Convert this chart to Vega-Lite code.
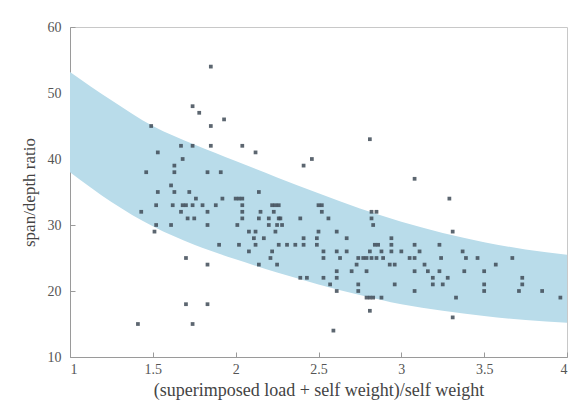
{
  "$schema": "https://vega.github.io/schema/vega-lite/v6.json",
  "width": 497,
  "height": 330,
  "autosize": "none",
  "padding": {"left": 70, "top": 27, "right": 17, "bottom": 53},
  "background": "white",
  "config": {
    "view": {"stroke": "#c8c8c8", "strokeWidth": 1},
    "font": "Liberation Serif",
    "axis": {
      "labelFont": "Liberation Serif",
      "titleFont": "Liberation Serif",
      "labelFontSize": 14,
      "labelColor": "#555555",
      "titleColor": "#444444",
      "titleFontWeight": "normal",
      "domainColor": "#9a9a9a",
      "tickColor": "#9a9a9a",
      "tickSize": -5,
      "grid": false
    }
  },
  "datasets": {
    "band": [
      {"ratio": 1.0, "upper": 53.2, "lower": 38.0},
      {"ratio": 1.25, "upper": 48.9, "lower": 33.5},
      {"ratio": 1.5, "upper": 45.0, "lower": 29.8},
      {"ratio": 1.75, "upper": 42.2, "lower": 27.0},
      {"ratio": 2.0, "upper": 39.7, "lower": 24.8},
      {"ratio": 2.25, "upper": 37.2, "lower": 22.8},
      {"ratio": 2.5, "upper": 34.8, "lower": 21.0},
      {"ratio": 2.75, "upper": 32.5, "lower": 19.4},
      {"ratio": 3.0, "upper": 30.5, "lower": 18.0},
      {"ratio": 3.25, "upper": 28.8, "lower": 17.0},
      {"ratio": 3.5, "upper": 27.4, "lower": 16.2},
      {"ratio": 3.75, "upper": 26.3, "lower": 15.6},
      {"ratio": 4.0, "upper": 25.5, "lower": 15.2}
    ],
    "pts": [
      {"x": 1.85, "y": 54},
      {"x": 1.74, "y": 48},
      {"x": 1.78, "y": 47},
      {"x": 1.93, "y": 46},
      {"x": 1.49, "y": 45}, {"x": 1.85, "y": 45},
      {"x": 2.81, "y": 43},
      {"x": 1.67, "y": 42}, {"x": 1.74, "y": 42}, {"x": 1.85, "y": 42}, {"x": 2.04, "y": 42},
      {"x": 1.53, "y": 41}, {"x": 2.12, "y": 41},
      {"x": 1.68, "y": 40}, {"x": 2.46, "y": 40},
      {"x": 1.63, "y": 39}, {"x": 2.41, "y": 39},
      {"x": 1.46, "y": 38}, {"x": 1.63, "y": 38}, {"x": 1.83, "y": 38}, {"x": 1.91, "y": 38},
      {"x": 3.08, "y": 37},
      {"x": 1.61, "y": 36},
      {"x": 1.53, "y": 35}, {"x": 1.63, "y": 35}, {"x": 1.72, "y": 35}, {"x": 2.14, "y": 35},
      {"x": 1.76, "y": 34}, {"x": 1.92, "y": 34}, {"x": 2.0, "y": 34}, {"x": 2.02, "y": 34}, {"x": 2.04, "y": 34}, {"x": 3.29, "y": 34},
      {"x": 1.52, "y": 33}, {"x": 1.62, "y": 33}, {"x": 1.68, "y": 33}, {"x": 1.70, "y": 33}, {"x": 1.74, "y": 33}, {"x": 1.80, "y": 33}, {"x": 1.88, "y": 33}, {"x": 2.04, "y": 33}, {"x": 2.22, "y": 33}, {"x": 2.24, "y": 33}, {"x": 2.26, "y": 33}, {"x": 2.50, "y": 33}, {"x": 2.52, "y": 33},
      {"x": 1.43, "y": 32}, {"x": 1.67, "y": 32}, {"x": 1.83, "y": 32}, {"x": 2.04, "y": 32}, {"x": 2.15, "y": 32}, {"x": 2.23, "y": 32}, {"x": 2.52, "y": 32}, {"x": 2.82, "y": 32}, {"x": 2.85, "y": 32},
      {"x": 1.71, "y": 31}, {"x": 1.75, "y": 31}, {"x": 2.04, "y": 31}, {"x": 2.14, "y": 31}, {"x": 2.20, "y": 31}, {"x": 2.26, "y": 31}, {"x": 2.27, "y": 31}, {"x": 2.39, "y": 31}, {"x": 2.56, "y": 31}, {"x": 2.82, "y": 31},
      {"x": 1.52, "y": 30}, {"x": 1.61, "y": 30}, {"x": 1.83, "y": 30}, {"x": 2.01, "y": 30}, {"x": 2.20, "y": 30}, {"x": 2.25, "y": 30}, {"x": 2.28, "y": 30}, {"x": 2.83, "y": 30},
      {"x": 1.51, "y": 29}, {"x": 2.08, "y": 29}, {"x": 2.12, "y": 29}, {"x": 2.24, "y": 29}, {"x": 2.50, "y": 29}, {"x": 2.61, "y": 29}, {"x": 3.31, "y": 29},
      {"x": 2.11, "y": 28}, {"x": 2.17, "y": 28}, {"x": 2.41, "y": 28}, {"x": 2.49, "y": 28}, {"x": 2.67, "y": 28}, {"x": 2.94, "y": 28},
      {"x": 1.90, "y": 27}, {"x": 2.02, "y": 27}, {"x": 2.12, "y": 27}, {"x": 2.26, "y": 27}, {"x": 2.31, "y": 27}, {"x": 2.36, "y": 27}, {"x": 2.41, "y": 27}, {"x": 2.49, "y": 27}, {"x": 2.84, "y": 27}, {"x": 2.86, "y": 27}, {"x": 2.94, "y": 27}, {"x": 3.08, "y": 27}, {"x": 3.23, "y": 27},
      {"x": 2.08, "y": 26}, {"x": 2.22, "y": 26}, {"x": 2.53, "y": 26}, {"x": 2.61, "y": 26}, {"x": 2.67, "y": 26}, {"x": 2.81, "y": 26}, {"x": 2.88, "y": 26}, {"x": 2.94, "y": 26}, {"x": 3.00, "y": 26}, {"x": 3.11, "y": 26}, {"x": 3.37, "y": 26},
      {"x": 1.70, "y": 25}, {"x": 2.21, "y": 25}, {"x": 2.53, "y": 25}, {"x": 2.63, "y": 25}, {"x": 2.74, "y": 25}, {"x": 2.77, "y": 25}, {"x": 2.79, "y": 25}, {"x": 2.82, "y": 25}, {"x": 2.85, "y": 25}, {"x": 2.89, "y": 25}, {"x": 3.05, "y": 25}, {"x": 3.08, "y": 25}, {"x": 3.24, "y": 25}, {"x": 3.39, "y": 25}, {"x": 3.46, "y": 25}, {"x": 3.67, "y": 25},
      {"x": 1.83, "y": 24}, {"x": 2.14, "y": 24}, {"x": 2.25, "y": 24}, {"x": 2.73, "y": 24}, {"x": 2.93, "y": 24}, {"x": 2.96, "y": 24}, {"x": 3.14, "y": 24}, {"x": 3.57, "y": 24},
      {"x": 2.61, "y": 23}, {"x": 2.70, "y": 23}, {"x": 2.79, "y": 23}, {"x": 3.08, "y": 23}, {"x": 3.16, "y": 23}, {"x": 3.23, "y": 23}, {"x": 3.38, "y": 23}, {"x": 3.50, "y": 23},
      {"x": 2.39, "y": 22}, {"x": 2.43, "y": 22}, {"x": 2.53, "y": 22}, {"x": 2.61, "y": 22}, {"x": 3.19, "y": 22}, {"x": 3.28, "y": 22}, {"x": 3.73, "y": 22},
      {"x": 2.57, "y": 21}, {"x": 2.74, "y": 21}, {"x": 2.96, "y": 21}, {"x": 3.19, "y": 21}, {"x": 3.25, "y": 21}, {"x": 3.50, "y": 21}, {"x": 3.73, "y": 21},
      {"x": 2.61, "y": 20}, {"x": 2.74, "y": 20}, {"x": 3.08, "y": 20}, {"x": 3.50, "y": 20}, {"x": 3.71, "y": 20}, {"x": 3.85, "y": 20},
      {"x": 2.79, "y": 19}, {"x": 2.81, "y": 19}, {"x": 2.83, "y": 19}, {"x": 2.88, "y": 19}, {"x": 3.33, "y": 19}, {"x": 3.96, "y": 19},
      {"x": 1.70, "y": 18}, {"x": 1.83, "y": 18},
      {"x": 2.81, "y": 17},
      {"x": 3.31, "y": 16},
      {"x": 1.41, "y": 15}, {"x": 1.74, "y": 15},
      {"x": 2.59, "y": 14}
    ]
  },
  "layer": [
    {
      "data": {"name": "band"},
      "mark": {"type": "area", "color": "#b9dcea", "interpolate": "monotone", "opacity": 1},
      "encoding": {
        "x": {
          "field": "ratio", "type": "quantitative",
          "scale": {"domain": [1, 4], "nice": false},
          "axis": {
            "values": [1, 1.5, 2, 2.5, 3, 3.5, 4],
            "format": "~g",
            "title": "(superimposed load + self weight)/self weight",
            "titleFontSize": 18,
            "labelPadding": 10,
            "titlePadding": 5
          }
        },
        "y": {
          "field": "upper", "type": "quantitative",
          "scale": {"domain": [10, 60], "nice": false, "zero": false},
          "axis": {
            "values": [10, 20, 30, 40, 50, 60],
            "title": "span/depth ratio",
            "titleFontSize": 17,
            "labelPadding": 14,
            "titlePadding": 9
          }
        },
        "y2": {"field": "lower"}
      }
    },
    {
      "data": {"name": "pts"},
      "mark": {"type": "point", "shape": "square", "filled": true, "size": 14, "color": "#3f4b57", "opacity": 0.85},
      "encoding": {
        "x": {"field": "x", "type": "quantitative"},
        "y": {"field": "y", "type": "quantitative"}
      }
    }
  ]
}
